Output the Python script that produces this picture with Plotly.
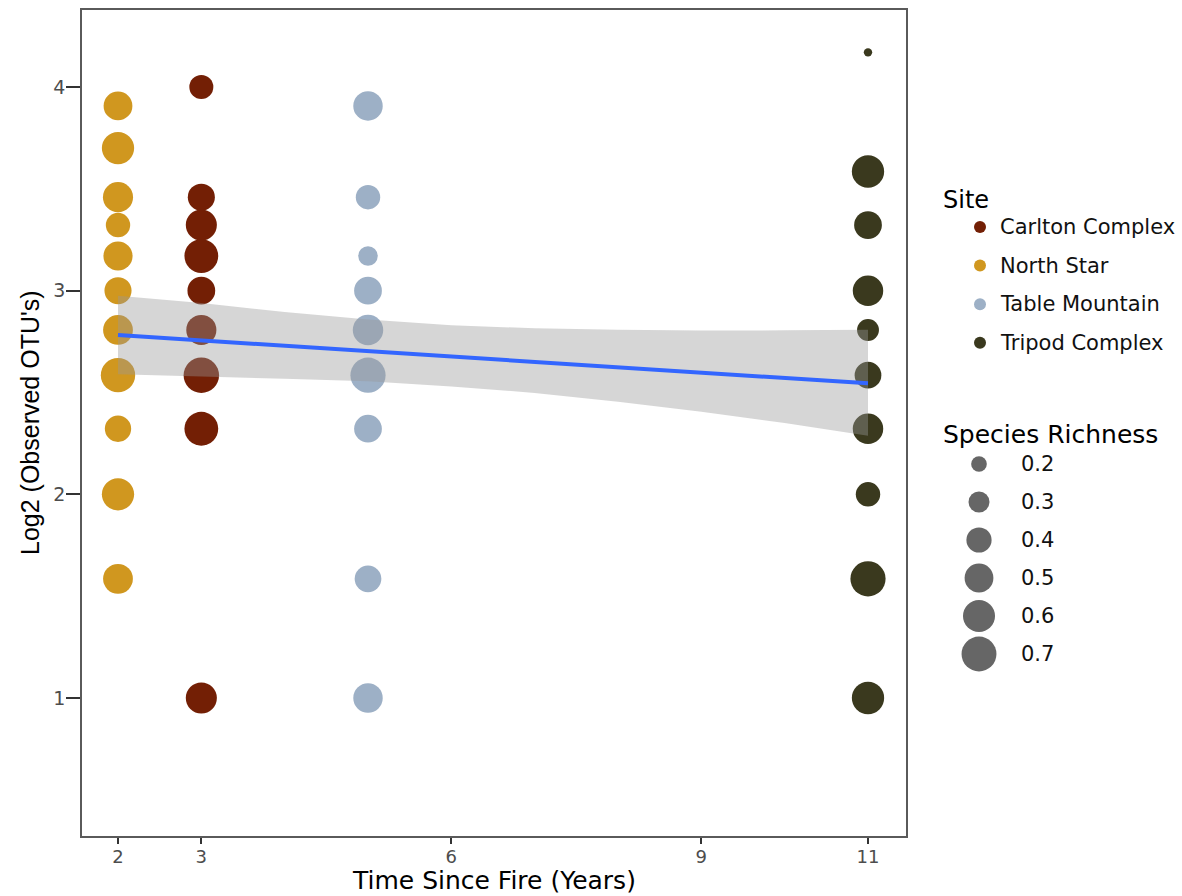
import plotly.graph_objects as go

# ---------------- data ----------------
sites = ["Carlton Complex", "North Star", "Table Mountain", "Tripod Complex"]
site_colors = ["#731F05", "#D0971F", "#9DB0C6", "#3A391E"]

# time since fire (years) per site
carlton_x = 3
northstar_x = 2
table_x = 5
tripod_x = 11

# Log2 (Observed OTU's)
carlton_y = [4.000, 3.459, 3.322, 3.170, 3.000, 2.807, 2.585, 2.322, 1.000]
northstar_y = [3.907, 3.700, 3.459, 3.322, 3.170, 3.000, 2.807, 2.585, 2.322, 2.000, 1.585]
table_y = [3.907, 3.459, 3.170, 3.000, 2.807, 2.585, 2.322, 1.585, 1.000]
tripod_y = [4.170, 3.585, 3.322, 3.000, 2.807, 2.585, 2.322, 2.000, 1.585, 1.000]

# species richness (point size)
carlton_rich = [0.37, 0.45, 0.57, 0.66, 0.47, 0.54, 0.72, 0.66, 0.57]
northstar_rich = [0.50, 0.61, 0.54, 0.38, 0.51, 0.45, 0.53, 0.68, 0.43, 0.61, 0.53]
table_rich = [0.52, 0.38, 0.27, 0.47, 0.55, 0.71, 0.47, 0.44, 0.52]
tripod_rich = [0.11, 0.61, 0.47, 0.55, 0.32, 0.44, 0.55, 0.38, 0.71, 0.61]

# linear fit and its confidence band
fit_x = [2, 11]
fit_y = [2.782, 2.545]
band_x = [2, 3, 4, 5, 6, 7, 8, 9, 10, 11]
band_upper = [2.975, 2.940, 2.895, 2.858, 2.830, 2.815, 2.808, 2.804, 2.805, 2.808]
band_lower = [2.590, 2.578, 2.567, 2.555, 2.530, 2.498, 2.455, 2.406, 2.350, 2.287]

x_ticks = [2, 3, 6, 9, 11]
y_ticks = [1, 2, 3, 4]
size_legend_values = [0.2, 0.3, 0.4, 0.5, 0.6, 0.7]

# ---------------- styling / layout ----------------
W, H = 1182, 896
PL, PR, PT, PB = 82, 906, 10, 836
FONT = "DejaVu Sans"


def diam(v):
    d2 = 1945.0 * v - 143.0
    return max(d2, 16.0) ** 0.5


fig = go.Figure()

series = [
    (sites[0], carlton_x, carlton_y, carlton_rich, site_colors[0]),
    (sites[1], northstar_x, northstar_y, northstar_rich, site_colors[1]),
    (sites[2], table_x, table_y, table_rich, site_colors[2]),
    (sites[3], tripod_x, tripod_y, tripod_rich, site_colors[3]),
]
for name, xv, yv, rv, col in series:
    fig.add_trace(go.Scatter(
        x=[xv] * len(yv), y=yv, mode="markers", name=name,
        marker=dict(size=[diam(r) for r in rv], color=col, opacity=1, line=dict(width=0)),
        xaxis="x", yaxis="y", hoverinfo="x+y+name",
    ))

# confidence band (drawn over the points, like ggplot)
fig.add_trace(go.Scatter(
    x=band_x + band_x[::-1], y=band_upper + band_lower[::-1],
    fill="toself", fillcolor="rgba(153,153,153,0.4)", mode="none",
    xaxis="x", yaxis="y", hoverinfo="skip",
))
fig.add_trace(go.Scatter(
    x=fit_x, y=fit_y, mode="lines", line=dict(color="#3366FF", width=4),
    xaxis="x", yaxis="y", hoverinfo="skip",
))

# ---------------- legends (pixel overlay axis) ----------------
site_leg_y0, site_leg_dy = 227, 38.6
for i, (s, c) in enumerate(zip(sites, site_colors)):
    yy = site_leg_y0 + i * site_leg_dy
    fig.add_trace(go.Scatter(
        x=[980], y=[yy], mode="markers", xaxis="x2", yaxis="y2",
        marker=dict(size=12, color=c, opacity=1, line=dict(width=0)), hoverinfo="skip",
    ))
    fig.add_annotation(x=998, y=yy, xref="x2", yref="y2", text=s, showarrow=False,
                       xanchor="left", yanchor="middle",
                       font=dict(family=FONT, size=21, color="#111111"))
fig.add_annotation(x=941, y=200, xref="x2", yref="y2", text="Site", showarrow=False,
                   xanchor="left", yanchor="middle",
                   font=dict(family=FONT, size=24, color="#000000"))

size_leg_y0, size_leg_dy = 464, 38
for i, v in enumerate(size_legend_values):
    yy = size_leg_y0 + i * size_leg_dy
    fig.add_trace(go.Scatter(
        x=[979], y=[yy], mode="markers", xaxis="x2", yaxis="y2",
        marker=dict(size=diam(v), color="#666666", opacity=1, line=dict(width=0)),
        hoverinfo="skip",
    ))
    fig.add_annotation(x=1019, y=yy, xref="x2", yref="y2", text=f"{v:.1f}", showarrow=False,
                       xanchor="left", yanchor="middle",
                       font=dict(family=FONT, size=21, color="#111111"))
fig.add_annotation(x=941, y=434, xref="x2", yref="y2", text="Species Richness", showarrow=False,
                   xanchor="left", yanchor="middle",
                   font=dict(family=FONT, size=25, color="#000000"))

# axis titles
fig.add_annotation(x=(PL + PR) / 2, y=880, xref="x2", yref="y2",
                   text="Time Since Fire (Years)", showarrow=False,
                   xanchor="center", yanchor="middle",
                   font=dict(family=FONT, size=25, color="#000000"))
fig.add_annotation(x=30, y=(PT + PB) / 2, xref="x2", yref="y2",
                   text="Log2 (Observed OTU's)", showarrow=False, textangle=-90,
                   xanchor="center", yanchor="middle",
                   font=dict(family="Liberation Sans", size=25, color="#000000"))

axis_common = dict(showgrid=False, zeroline=False, showline=True, linecolor="#5a5a5a",
                   linewidth=1.5, mirror=True, ticks="outside", tickwidth=1.5,
                   tickcolor="#333333")

fig.update_layout(
    width=W, height=H, autosize=False,
    margin=dict(l=0, r=0, t=0, b=0),
    paper_bgcolor="white", plot_bgcolor="rgba(0,0,0,0)",
    showlegend=False,
    xaxis=dict(domain=[PL / W, PR / W], range=[1.568, 11.456], tickvals=x_ticks,
               ticklen=6, anchor="y", ticklabelstandoff=-2,
               tickfont=dict(family=FONT, size=18, color="#4d4d4d"), **axis_common),
    yaxis=dict(domain=[(H - PB) / H, (H - PT) / H], range=[0.3224, 4.378], tickvals=y_ticks,
               ticklen=14, anchor="x", ticklabelstandoff=-3,
               tickfont=dict(family=FONT, size=19, color="#4d4d4d"), **axis_common),
    xaxis2=dict(domain=[0, 1], range=[0, W], visible=False, anchor="y2", fixedrange=True),
    yaxis2=dict(domain=[0, 1], range=[H, 0], visible=False, anchor="x2", fixedrange=True),
)

fig.write_html("out.html")
